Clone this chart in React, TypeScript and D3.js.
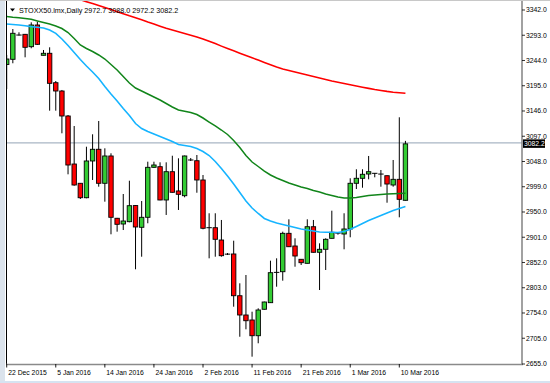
import React from 'react';
import * as d3 from 'd3';

const opens = [3236.2,3246.3,3293.0,3294.8,3270.8,3312.9,3254.1,3258.0,3200.9,3184.8,3136.3,3043.1,3005.7,2977.7,3049.0,3071.7,3005.7,3058.7,2937.8,2926.7,2931.2,2962.5,2920.3,2939.7,3036.7,3037.9,2973.3,3028.2,2990.8,2981.6,3050.3,3049.5,3012.1,2919.8,2919.5,2895.6,2868.5,2868.5,2787.5,2750.1,2740.4,2709.9,2761.2,2774.0,2832.4,2834.1,2908.6,2884.0,2858.2,2850.4,2921.4,2871.8,2877.6,2898.9,2909.0,2907.3,2917.0,3005.7,3015.4,3023.7,3025.0,3023.7,3020.4,3002.4,3013.4,2972.7];
const highs = [3254.7,3305.1,3298.7,3295.5,3318.1,3319.3,3264.4,3269.6,3204.2,3186.8,3138.2,3116.9,3006.0,3076.7,3100.8,3126.6,3073.6,3063.9,2938.5,2984.9,3010.7,2963.5,2971.3,3047.6,3047.6,3046.4,3046.4,3059.2,3054.2,3059.5,3054.8,3060.6,3021.8,2947.5,2947.5,2934.5,2870.4,2894.3,2811.6,2827.7,2756.5,2763.1,2776.0,2855.5,2860.1,2911.8,2935.8,2898.9,2858.5,2935.8,2934.5,2889.2,2898.9,2952.5,2911.0,2947.5,3015.4,3032.9,3032.9,3058.7,3025.5,3031.5,3021.0,3050.9,3133.8,3088.0];
const lows = [3188.7,3238.6,3292.5,3250.2,3267.7,3274.1,3253.9,3146.6,3146.6,3102.7,3023.1,3001.0,2975.2,2976.6,3012.1,2999.1,2970.0,2906.7,2911.8,2915.0,2930.0,2838.8,2863.2,2928.1,3036.0,2972.8,2944.2,2987.5,2953.9,2978.5,3049.0,2987.4,2916.4,2860.1,2863.2,2863.2,2866.5,2766.2,2707.9,2722.3,2669.2,2695.2,2760.5,2773.5,2805.0,2816.7,2882.0,2843.8,2847.1,2850.0,2871.3,2798.6,2837.4,2898.5,2906.0,2877.6,2900.9,2994.6,2997.1,3013.4,3017.3,2999.1,2968.0,2999.1,2939.7,2972.2];
const closes = [3246.9,3296.8,3293.8,3269.6,3312.9,3275.4,3258.0,3199.7,3184.8,3136.3,3041.2,3002.4,2977.7,3049.0,3071.7,3005.7,3058.7,2939.7,2926.1,2932.5,2962.2,2920.9,2939.7,3036.7,3041.2,2973.3,3028.2,2988.2,2984.3,3058.7,3051.5,3012.1,2918.4,2919.2,2897.0,2865.2,2867.9,2787.5,2750.1,2739.0,2709.9,2759.8,2775.3,2832.2,2833.2,2908.6,2882.6,2864.6,2851.6,2921.4,2871.8,2877.6,2897.0,2910.6,2909.0,2917.0,3005.7,3015.4,3023.2,3028.2,3025.1,3023.5,3004.3,3013.4,2974.6,3082.2];

const maGreen = [3329.4,3328.0,3326.9,3325.5,3323.9,3320.7,3317.7,3314.8,3311.0,3306.1,3298.3,3286.7,3274.1,3267.3,3261.5,3254.7,3246.9,3236.2,3225.6,3213.0,3200.3,3190.6,3184.8,3179.0,3173.2,3167.3,3160.5,3153.8,3147.9,3145.4,3143.1,3139.2,3132.4,3124.6,3116.9,3109.1,3100.4,3088.7,3075.2,3059.6,3047.0,3038.3,3029.5,3021.8,3016.0,3011.1,3006.3,3002.4,2998.5,2995.6,2991.7,2988.8,2984.9,2982.0,2979.1,2977.2,2977.2,2978.1,2980.1,2982.0,2983.0,2983.9,2984.9,2985.5,2985.9,2986.3];
const maBlue = [3314.8,3313.9,3312.9,3311.3,3309.8,3308.6,3307.1,3303.2,3296.8,3285.7,3273.1,3259.5,3246.0,3233.3,3221.7,3209.1,3193.5,3179.0,3165.4,3150.9,3137.3,3121.7,3112.0,3106.2,3101.4,3096.5,3091.7,3086.8,3081.0,3079.0,3077.1,3073.2,3067.4,3059.6,3048.0,3034.4,3019.8,3004.3,2987.8,2971.3,2957.8,2947.1,2937.4,2932.5,2928.6,2925.7,2922.8,2919.9,2917.0,2915.0,2913.1,2911.2,2910.8,2910.6,2910.2,2912.2,2916.4,2921.9,2927.7,2933.5,2938.4,2943.2,2948.1,2953.0,2956.8,2960.7];
const maRed: (number | null)[] = [null,null,null,null,null,null,null,null,null,null,3370.0,3366.3,3362.0,3358.1,3354.4,3350.7,3346.7,3342.8,3338.7,3334.8,3330.7,3326.9,3323.0,3318.7,3314.8,3310.6,3306.5,3303.2,3299.9,3296.4,3293.1,3289.6,3285.7,3281.3,3276.8,3271.9,3267.3,3262.8,3258.2,3253.7,3249.2,3244.8,3240.3,3235.8,3231.4,3227.5,3224.6,3221.7,3218.8,3215.9,3213.0,3210.0,3207.1,3204.2,3201.7,3199.2,3196.8,3194.5,3192.2,3189.9,3187.7,3185.8,3184.0,3182.5,3181.3,3180.3];

const xTickIndex = [0, 8, 16, 24, 32, 40, 48, 56, 64];
const xTickLabels = ['22 Dec 2015', '5 Jan 2016', '14 Jan 2016', '24 Jan 2016', '2 Feb 2016', '11 Feb 2016', '21 Feb 2016', '1 Mar 2016', '10 Mar 2016'];
const yTicks = [3342, 3293, 3244, 3195, 3146, 3097, 3048, 2999, 2950, 2901, 2852, 2803, 2754, 2705, 2655];
const title = 'STOXX50.lmx,Daily';
const lastBar = { o: 2972.7, h: 3088.0, l: 2972.2, c: 3082.2 };

const W = 550, H = 383;
const PL = 6.5, PR = 522, PT = 1, PB = 364;
const FONT = 'Liberation Sans, Arial, sans-serif';

export default function App() {
  const x = d3.scaleLinear().domain([0, 64]).range([6.7, 399.3]);
  const y = d3.scaleLinear().domain([2655, 3342]).range([364, 10]);
  const line = d3.line<number | null>()
    .defined((v) => v != null)
    .x((_, i) => x(i))
    .y((v) => y(v as number))
    .curve(d3.curveLinear);
  const bw = 4.4;
  const lastY = y(lastBar.c);

  return (
    <svg width={W} height={H} style={{ position: 'absolute', left: 0, top: 0, background: '#fff' }}>
      <defs>
        <clipPath id="plot">
          <rect x={PL} y={PT} width={PR - PL} height={PB - PT} />
        </clipPath>
      </defs>
      <rect x={0} y={0} width={W} height={H} fill="#ffffff" />
      <rect x={0} y={0} width={5} height={H} fill="#dbe3ec" />
      <rect x={0} y={381} width={W} height={2} fill="#d6e3f1" />
      <line x1={0} x2={W} y1={0.5} y2={0.5} stroke="#c8c8c8" />

      <g clipPath="url(#plot)">
        <line x1={PL} x2={PR} y1={lastY - 1} y2={lastY - 1} stroke="#a9b6c4" strokeWidth={1.4} />
        {opens.map((o, i) => {
          const c = closes[i];
          const cx = x(i);
          const top = y(Math.max(o, c));
          const bot = y(Math.min(o, c));
          const up = c >= o;
          const doji = bot - top < 1.2;
          return (
            <g key={i}>
              <line x1={cx} x2={cx} y1={y(highs[i])} y2={y(lows[i])} stroke="#000" strokeWidth={1} />
              {doji ? (
                <line x1={cx - bw / 2 - 0.5} x2={cx + bw / 2 + 0.5} y1={(top + bot) / 2} y2={(top + bot) / 2} stroke="#000" strokeWidth={1} />
              ) : (
                <rect x={cx - bw / 2} y={top} width={bw} height={bot - top}
                  fill={up ? '#33cc33' : '#ff0000'} stroke="#000" strokeWidth={0.9} />
              )}
            </g>
          );
        })}
        <path d={line(maRed) || ''} fill="none" stroke="#ff0000" strokeWidth={1.6} />
        <path d={line(maGreen) || ''} fill="none" stroke="#11851a" strokeWidth={1.5} />
        <path d={line(maBlue) || ''} fill="none" stroke="#16b4ff" strokeWidth={1.6} />
      </g>

      {/* frame */}
      <line x1={6.5} x2={6.5} y1={PT} y2={PB + 1} stroke="#000" strokeWidth={1} />
      <line x1={6} x2={PR + 1} y1={PB + 0.5} y2={PB + 0.5} stroke="#8a8a8a" strokeWidth={1.5} />
      <line x1={PR} x2={PR} y1={PT} y2={PB + 1} stroke="#8a8a8a" strokeWidth={1.6} />

      {/* title */}
      <path d="M10,8.5 L15,8.5 L12.5,11.5 Z" fill="#000" />
      <text x={19} y={12.8} fontFamily={FONT} fontSize={7.2} fill="#000">
        {`${title}  ${lastBar.o.toFixed(1)} ${lastBar.h.toFixed(1)} ${lastBar.l.toFixed(1)} ${lastBar.c.toFixed(1)}`}
      </text>

      {/* y axis */}
      {yTicks.map((t) => (
        <g key={t}>
          <line x1={PR} x2={PR + 3} y1={y(t)} y2={y(t)} stroke="#000" strokeWidth={0.8} />
          <text x={526} y={y(t)} dy="0.35em" fontFamily={FONT} fontSize={6.8} fill="#000">{t.toFixed(1)}</text>
        </g>
      ))}
      <rect x={523} y={lastY - 4.5} width={22} height={8.5} fill="#000" />
      <text x={524} y={lastY - 0.2} dy="0.35em" fontFamily={FONT} fontSize={6.8} fill="#fff">{lastBar.c.toFixed(1)}</text>

      {/* x axis */}
      {xTickIndex.map((ti, k) => (
        <g key={ti}>
          <line x1={x(ti)} x2={x(ti)} y1={PB} y2={PB + 3.5} stroke="#000" strokeWidth={0.9} />
          <text x={x(ti) + 1.5} y={375} fontFamily={FONT} fontSize={6.8} fill="#000">{xTickLabels[k]}</text>
        </g>
      ))}
    </svg>
  );
}
